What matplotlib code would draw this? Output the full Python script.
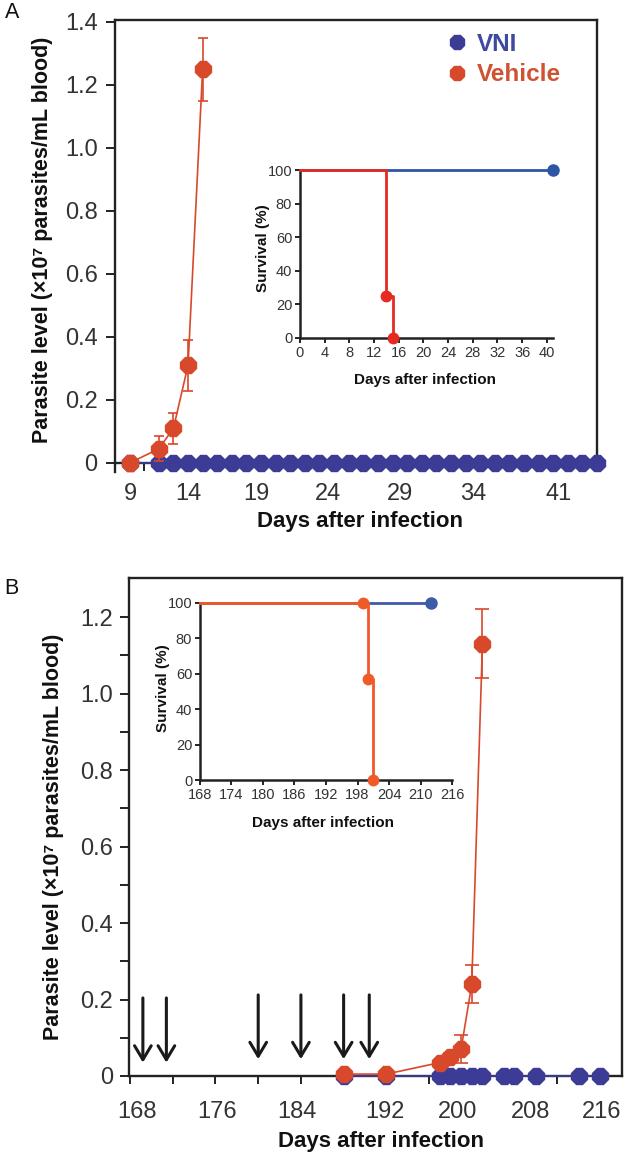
import matplotlib
matplotlib.use('Agg')
import matplotlib.pyplot as plt
from matplotlib.lines import Line2D

plt.rcParams['font.family'] = ['Liberation Sans', 'DejaVu Sans']

# ---------------- data ----------------
# Panel A, main plot (parasite level, x10^7 parasites/mL blood)
vni_days_a = [9, 11, 12, 13, 14, 15, 16, 17, 18, 19, 20, 21, 22, 23, 24, 25, 26,
              27, 28, 29, 30, 31, 32, 33, 34, 35, 36, 37, 38, 39, 40, 41]
vni_level_a = [0, 0, 0, 0, 0, 0, 0, 0, 0, 0, 0, 0, 0, 0, 0, 0, 0,
               0, 0, 0, 0, 0, 0, 0, 0, 0, 0, 0, 0, 0, 0, 0]
veh_days_a = [9, 11, 12, 13, 14]
veh_level_a = [0.0, 0.045, 0.11, 0.31, 1.25]
veh_err_a = [0.0, 0.04, 0.05, 0.08, 0.10]
xtick_labels_a = ['9', '14', '19', '24', '29', '34', '41']
ytick_vals_a = [0, 0.2, 0.4, 0.6, 0.8, 1.0, 1.2, 1.4]
ytick_labels_a = ['0', '0.2', '0.4', '0.6', '0.8', '1.0', '1.2', '1.4']
series_names = ['VNI', 'Vehicle']

# Panel A, inset (survival %)
surv_vni_days_a = [0, 41]
surv_vni_a = [100, 100]
surv_veh_days_a = [0, 14, 15]
surv_veh_a = [100, 25, 0]
inset_xticks_a = [0, 4, 8, 12, 16, 20, 24, 28, 32, 36, 40]
inset_yticks = [0, 20, 40, 60, 80, 100]

# Panel B, main plot
vni_days_b = [188, 192, 197, 198, 199, 200, 201, 203, 204, 206, 210, 212]
vni_level_b = [0, 0, 0, 0, 0, 0, 0, 0, 0, 0, 0, 0]
veh_days_b = [188, 192, 197, 198, 199, 200, 201]
veh_level_b = [0.005, 0.005, 0.035, 0.05, 0.07, 0.24, 1.13]
veh_err_b = [0.0, 0.0, 0.005, 0.01, 0.036, 0.05, 0.09]
dose_days_b = [169.2, 171.4, 180, 184, 188, 190.4]
dose_top_b = [0.204, 0.204, 0.212, 0.212, 0.212, 0.212]
dose_tip_b = [0.035, 0.035, 0.044, 0.044, 0.044, 0.044]
xtick_labels_b = ['168', '176', '184', '192', '200', '208', '216']
ytick_vals_b = [0, 0.2, 0.4, 0.6, 0.8, 1.0, 1.2]
ytick_labels_b = ['0', '0.2', '0.4', '0.6', '0.8', '1.0', '1.2']
yminor_b = [0.1, 0.3, 0.5, 0.7, 0.9, 1.1]
xminor_b = [168, 172, 176, 180, 184, 188, 192, 196, 200, 204, 208, 212]

# Panel B, inset
surv_vni_days_b = [168, 212]
surv_vni_b = [100, 100]
surv_veh_days_b = [168, 199, 200, 201]
surv_veh_b = [100, 100, 57, 0]
inset_xticks_b = [168, 174, 180, 186, 192, 198, 204, 210, 216]

# label positions as they appear in the original figure (layout)
xtick_pos_a = [9.03, 13.0, 17.69, 22.58, 27.51, 32.51, 38.40]
xtick_pos_b = [168.66, 176.15, 183.64, 191.9, 198.7, 205.5, 212.2]

# ---------------- style ----------------
W, H = 625, 1155
BLUE = '#3c3b95'
RED = '#d8482b'
BLUE_IN_A = '#2d55a5'
RED_IN_A = '#e52a22'
BLUE_IN_B = '#3d5ba8'
RED_IN_B = '#f05a28'
SPINE = '#222222'
TICKLAB = '#333333'
MK = '8'

fig = plt.figure(figsize=(W / 100, H / 100), dpi=100)


def px_axes(x0, y0, x1, y1):
    return fig.add_axes([x0 / W, 1 - y1 / H, (x1 - x0) / W, (y1 - y0) / H])


def ftext(x, y, s, **kw):
    return fig.text(x / W, 1 - y / H, s, **kw)


def style_spines(ax, lw):
    for sp in ax.spines.values():
        sp.set_linewidth(lw)
        sp.set_color(SPINE)


# ================= Panel A main =================
axA = px_axes(115, 20, 597, 472)
axA.set_xlim(8, 41)
axA.set_ylim(-0.0286, 1.4063)
style_spines(axA, 1.7)
axA.spines['bottom'].set_position(('data', 0))
axA.spines['right'].set_bounds(0, 1.4063)

axA.plot(vni_days_a, vni_level_a, color=BLUE, lw=1.3, marker=MK, ms=12,
         mec=BLUE, clip_on=False, zorder=3)
axA.errorbar(veh_days_a, veh_level_a, yerr=veh_err_a, color=RED, lw=1.2,
             marker=MK, ms=12, mec=RED, capsize=3.6, elinewidth=1.2,
             capthick=1.2, clip_on=False, zorder=4)

axA.set_xticks(xtick_pos_a)
axA.set_xticklabels(xtick_labels_a)
axA.set_xticks(vni_days_a[:1] + [10] + vni_days_a[1:], minor=True)
axA.tick_params(axis='x', which='major', length=0, pad=14.4, labelsize=17,
                labelcolor=TICKLAB)
axA.tick_params(axis='x', which='minor', length=5.8, width=1.4, color=SPINE,
                direction='out')
axA.set_yticks(ytick_vals_a)
axA.set_yticklabels(ytick_labels_a)
axA.tick_params(axis='y', which='major', length=6.5, width=1.4, color=SPINE,
                pad=6, labelsize=17, labelcolor=TICKLAB)

handles = [Line2D([], [], marker=MK, ls='', color=BLUE, ms=11),
           Line2D([], [], marker=MK, ls='', color=RED, ms=11)]
axA.legend(handles, series_names, loc='upper left',
           bbox_to_anchor=(447 / W, 1 - 33 / H), bbox_transform=fig.transFigure,
           frameon=False, prop={'weight': 'bold', 'size': 17.5},
           labelcolor=['#3e4a9b', '#cf5231'], handlelength=0.8,
           handletextpad=0.44, labelspacing=0.3, borderpad=0, borderaxespad=0)

ftext(43, 240, 'Parasite level (×10⁷ parasites/mL blood)', rotation=90,
      ha='center', va='center', fontsize=15.5, fontweight='bold', color='#111111')
ftext(360, 522, 'Days after infection', ha='center', va='center',
      fontsize=16, fontweight='bold', color='#111111')
ftext(12.5, 12.5, 'A', ha='center', va='center', fontsize=15.5, color='#111111')

# ================= Panel A inset =================
axAi = px_axes(300, 170.5, 553, 338)
axAi.set_xlim(0, 41)
axAi.set_ylim(0, 100)
style_spines(axAi, 1.8)
axAi.spines['top'].set_visible(False)
axAi.spines['right'].set_visible(False)
axAi.plot(surv_vni_days_a, surv_vni_a, color=BLUE_IN_A, lw=2, marker='o', ms=8,
          markevery=[1], clip_on=False, zorder=3)
axAi.plot(surv_veh_days_a, surv_veh_a, color=RED_IN_A, lw=2, marker='o', ms=7.5,
          markevery=[1, 2], drawstyle='steps-post', clip_on=False, zorder=4)
axAi.set_xticks(inset_xticks_a)
axAi.set_yticks(inset_yticks)
axAi.tick_params(length=3.6, width=1.4, color=SPINE, pad=2, labelsize=10.5,
                 labelcolor=TICKLAB)
ftext(425, 380, 'Days after infection', ha='center', va='center',
      fontsize=11, fontweight='bold', color='#111111')
ftext(263, 248, 'Survival (%)', rotation=90, ha='center', va='center',
      fontsize=11, fontweight='bold', color='#111111')

# ================= Panel B main =================
axB = px_axes(129, 578, 622, 1076)
axB.set_xlim(167.9, 214.07)
axB.set_ylim(0, 1.302)
style_spines(axB, 1.7)

axB.plot(vni_days_b, vni_level_b, color=BLUE, lw=1.3, marker=MK, ms=12.5,
         mec=BLUE, clip_on=False, zorder=3)
axB.errorbar(veh_days_b, veh_level_b, yerr=veh_err_b, color=RED, lw=1.2,
             marker=MK, ms=13, mec=RED, capsize=5, elinewidth=1.2,
             capthick=1.2, clip_on=False, zorder=4)

for d, top, tip in zip(dose_days_b, dose_top_b, dose_tip_b):
    axB.annotate('', xy=(d, tip), xytext=(d, top),
                 arrowprops=dict(arrowstyle='->,head_length=1.0,head_width=0.6',
                                 lw=2.2, color='#1a1a1a', shrinkA=0, shrinkB=0))

axB.set_xticks(xtick_pos_b)
axB.set_xticklabels(xtick_labels_b)
axB.set_xticks(xminor_b, minor=True)
axB.tick_params(axis='x', which='major', length=0, pad=18, labelsize=17,
                labelcolor=TICKLAB)
axB.tick_params(axis='x', which='minor', length=5.8, width=1.4, color=SPINE)
axB.set_yticks(ytick_vals_b)
axB.set_yticklabels(ytick_labels_b)
axB.set_yticks(yminor_b, minor=True)
axB.tick_params(axis='y', which='both', length=6.5, width=1.4, color=SPINE,
                pad=5, labelsize=17, labelcolor=TICKLAB)

ftext(54, 837, 'Parasite level (×10⁷ parasites/mL blood)', rotation=90,
      ha='center', va='center', fontsize=15.5, fontweight='bold', color='#111111')
ftext(381, 1142, 'Days after infection', ha='center', va='center',
      fontsize=16, fontweight='bold', color='#111111')
ftext(11.5, 589, 'B', ha='center', va='center', fontsize=15.5, color='#111111')

# ================= Panel B inset =================
axBi = px_axes(200, 603, 452, 780)
axBi.set_xlim(168, 216)
axBi.set_ylim(0, 100)
style_spines(axBi, 1.8)
axBi.spines['top'].set_visible(False)
axBi.spines['right'].set_visible(False)
axBi.plot(surv_vni_days_b, surv_vni_b, color=BLUE_IN_B, lw=2, marker='o', ms=8,
          markevery=[1], clip_on=False, zorder=3)
axBi.plot(surv_veh_days_b, surv_veh_b, color=RED_IN_B, lw=2, marker='o', ms=7.5,
          markevery=[1, 2, 3], drawstyle='steps-post', clip_on=False, zorder=4)
axBi.set_xticks(inset_xticks_b)
axBi.set_yticks(inset_yticks)
axBi.tick_params(length=3.6, width=1.4, color=SPINE, pad=2, labelsize=10.5,
                 labelcolor=TICKLAB)
ftext(323, 823, 'Days after infection', ha='center', va='center',
      fontsize=11, fontweight='bold', color='#111111')
ftext(163, 688, 'Survival (%)', rotation=90, ha='center', va='center',
      fontsize=11, fontweight='bold', color='#111111')

fig.savefig('out.png', dpi=100)
